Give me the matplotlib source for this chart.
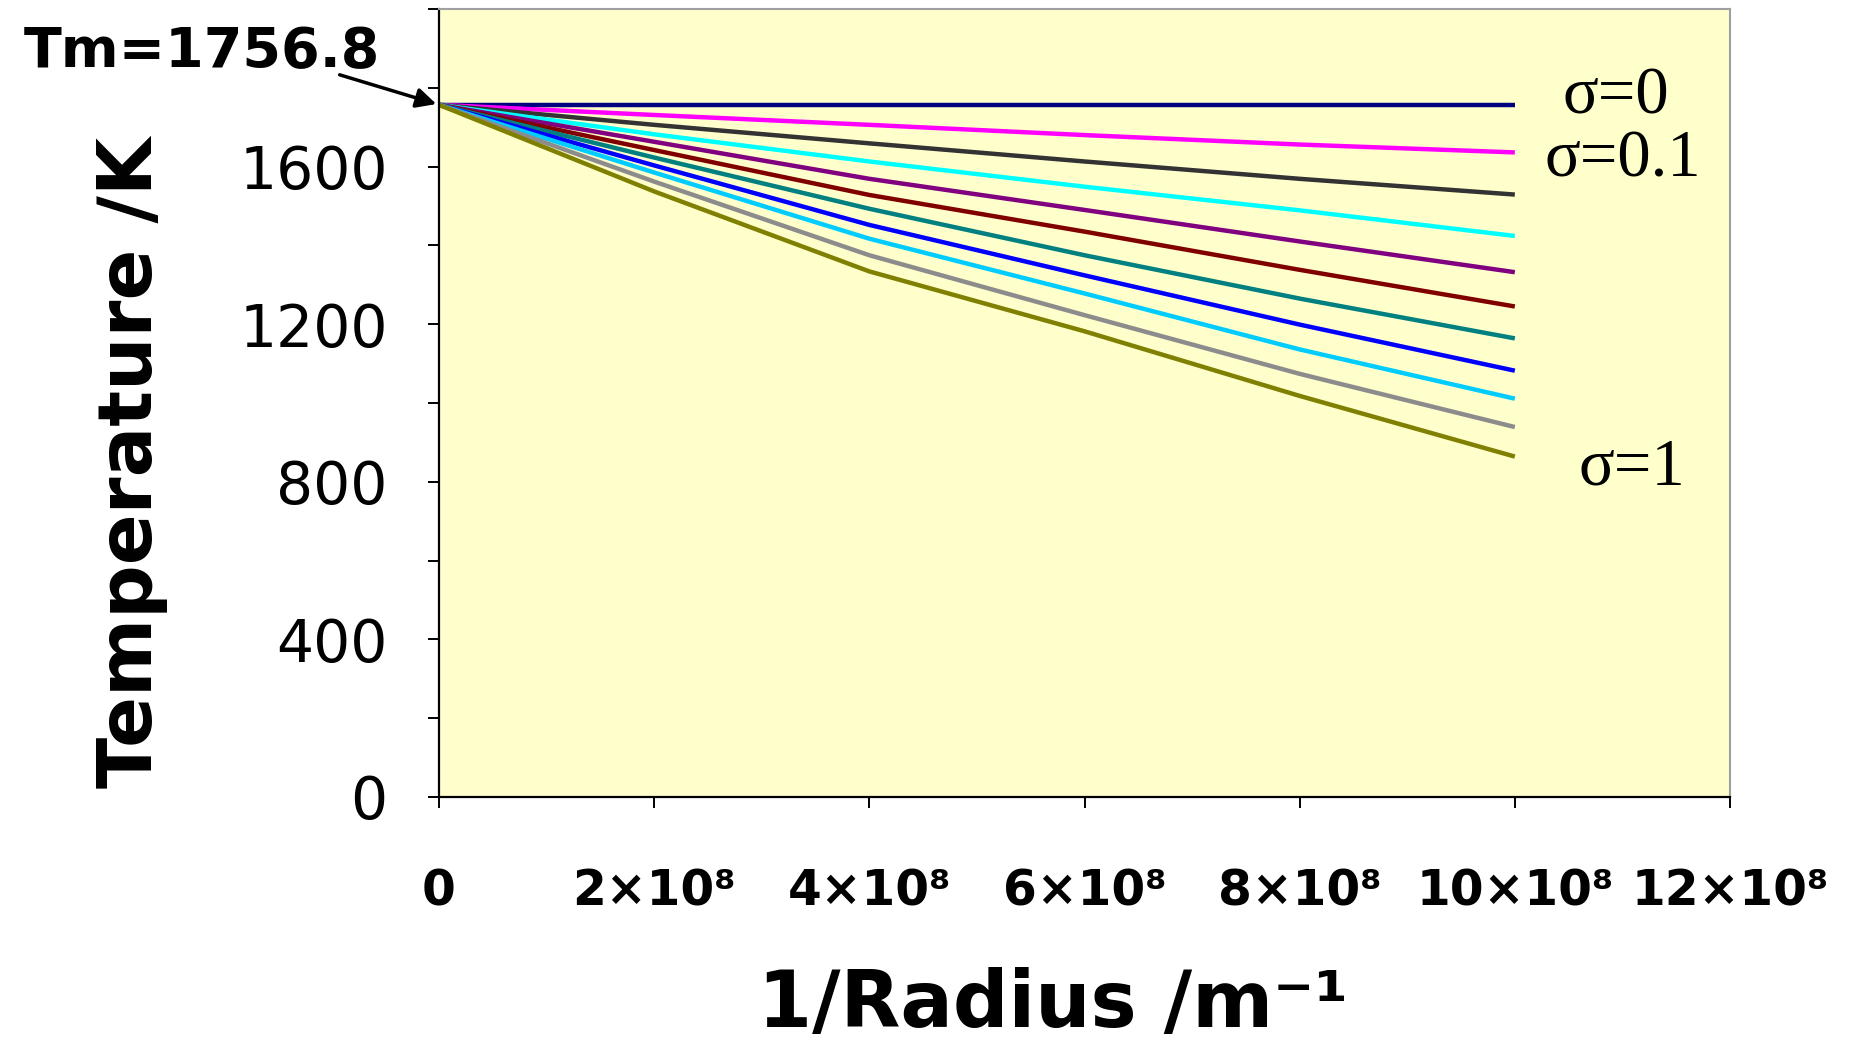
import matplotlib
matplotlib.use('Agg')
import matplotlib.pyplot as plt
from matplotlib.ticker import FixedLocator

plt.rcParams['font.family'] = ['DejaVu Sans']

# data
x = [0, 2e8, 4e8, 6e8, 8e8, 10e8]
T_s00 = [1756.8, 1756.8, 1756.8, 1756.8, 1756.8, 1756.8]
T_s01 = [1756.8, 1731, 1706, 1680, 1656, 1636]
T_s02 = [1756.8, 1706, 1659, 1613, 1569, 1529]
T_s03 = [1756.8, 1682, 1613, 1549, 1489, 1424]
T_s04 = [1756.8, 1663, 1569, 1490, 1410, 1332]
T_s05 = [1756.8, 1642, 1528, 1435, 1338, 1245]
T_s06 = [1756.8, 1623, 1493, 1375, 1265, 1164]
T_s07 = [1756.8, 1603, 1452, 1324, 1199, 1082]
T_s08 = [1756.8, 1585, 1417, 1278, 1136, 1011]
T_s09 = [1756.8, 1562, 1375, 1223, 1074, 939]
T_s10 = [1756.8, 1537, 1334, 1182, 1018, 864]
series = [T_s00, T_s01, T_s02, T_s03, T_s04, T_s05, T_s06, T_s07, T_s08, T_s09, T_s10]
colors = ['#000080', '#FF00FF', '#333333', '#00FFFF', '#800080', '#800000',
          '#008080', '#0000FF', '#00CCFF', '#8C8C8C', '#808000']

x_ticks = [0, 2e8, 4e8, 6e8, 8e8, 10e8, 12e8]
x_labels = ['0', '2×10⁸', '4×10⁸', '6×10⁸', '8×10⁸', '10×10⁸', '12×10⁸']
y_ticks = [0, 400, 800, 1200, 1600]
y_minor = [200, 600, 1000, 1400, 1800, 2000]
Tm = 1756.8

fig = plt.figure(figsize=(18.61, 10.42), dpi=100)
ax = fig.add_axes([439/1861, 1-797/1042, 1291/1861, 788/1042])
ax.set_facecolor('#FFFFCC')

for s, c in zip(series, colors):
    ax.plot(x, s, color=c, lw=3.2, solid_capstyle='butt', solid_joinstyle='round')

ax.set_xlim(0, 12e8)
ax.set_ylim(0, 2000)

# 軸線
ax.spines['left'].set_linewidth(1.6)
ax.spines['bottom'].set_linewidth(1.6)
ax.spines['top'].set_color('#A0A0A0')
ax.spines['right'].set_color('#A0A0A0')
ax.spines['top'].set_linewidth(1.5)
ax.spines['right'].set_linewidth(1.5)

ax.set_xticks(x_ticks)
ax.set_xticklabels(x_labels, fontsize=35, fontweight='bold')
ax.set_yticks(y_ticks)
ax.set_yticklabels([str(v) for v in y_ticks], fontsize=42)
ax.yaxis.set_minor_locator(FixedLocator(y_minor))
ax.tick_params(axis='both', which='both', direction='out', length=8, width=1.4)
ax.tick_params(axis='y', which='major', pad=29)
ax.tick_params(axis='x', which='major', pad=43)

ax.set_xlabel('1/Radius /m⁻¹', fontsize=56, fontweight='bold', va='center')
ax.xaxis.set_label_coords(0.476, -0.264)
ax.set_ylabel('Temperature /K', fontsize=54, fontweight='bold', va='center')
ax.yaxis.set_label_coords(-0.238, 0.424)

# sigma labels
ax.text(1.044e9, 1734, 'σ=0', fontsize=48, family='Liberation Serif', va='baseline')
ax.text(1.028e9, 1575, 'σ=0.1', fontsize=48, family='Liberation Serif', va='baseline')
ax.text(1.059e9, 792, 'σ=1', fontsize=48, family='Liberation Serif', va='baseline')

# Tm annotation
fig.text(24/1861, 1-67/1042, 'Tm=%.1f' % Tm, fontsize=40, fontweight='bold', va='baseline', ha='left')
ax.annotate('', xy=(0, Tm), xycoords='data', xytext=(337, 1042-74), textcoords='figure pixels',
            arrowprops=dict(arrowstyle='-|>', color='black', lw=2.5, mutation_scale=30),
            annotation_clip=False)

plt.savefig('out.png', dpi=100)
